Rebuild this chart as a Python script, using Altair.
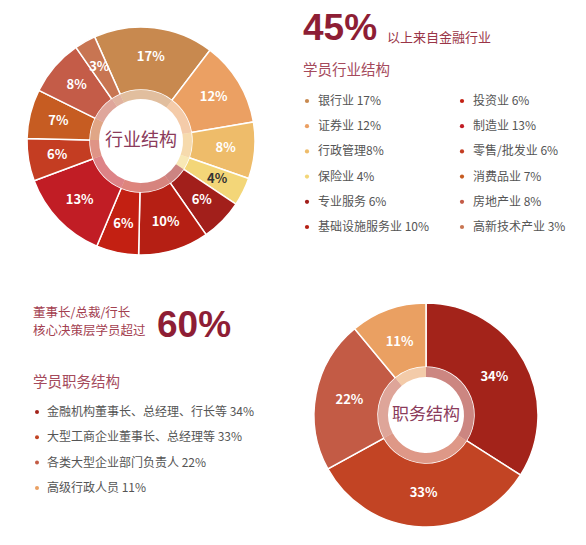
import math
import altair as alt
import pandas as pd

# ---------------- data ----------------
ind_names = ["银行业", "证券业", "行政管理", "保险业", "专业服务", "基础设施服务业",
             "投资业", "制造业", "零售/批发业", "消费品业", "房地产业", "高新技术产业"]
ind_values = [17, 12, 8, 4, 6, 10, 6, 13, 6, 7, 8, 3]
ind_legend = ["银行业 17%", "证券业 12%", "行政管理8%", "保险业 4%", "专业服务 6%",
              "基础设施服务业 10%", "投资业 6%", "制造业 13%", "零售/批发业 6%",
              "消费品业 7%", "房地产业 8%", "高新技术产业 3%"]
ind_colors = ["#C8894F", "#EBA063", "#EEBC6A", "#F3D678", "#A21F1B", "#B51F14",
              "#C32012", "#C11D25", "#C43D22", "#C65C22", "#C45C48", "#C87552"]

pos_names = ["金融机构董事长、总经理、行长等", "大型工商企业董事长、总经理等",
             "各类大型企业部门负责人", "高级行政人员"]
pos_values = [34, 33, 22, 11]
pos_legend = ["金融机构董事长、总经理、行长等 34%", "大型工商企业董事长、总经理等 33%",
              "各类大型企业部门负责人 22%", "高级行政人员 11%"]
pos_colors = ["#A3231A", "#C24424", "#C35B45", "#EAA062"]

FONT = "Noto Sans CJK SC"
TWO_PI = 2 * math.pi

ind_df = pd.DataFrame({"idx": range(len(ind_names)), "name": ind_names,
                       "v": ind_values, "label": ind_legend,
                       "pct": [f"{v}%" for v in ind_values]})
pos_df = pd.DataFrame({"idx": range(len(pos_names)), "name": pos_names,
                       "v": pos_values, "label": pos_legend,
                       "pct": [f"{v}%" for v in pos_values]})

# ---------------- top donut ----------------
cx1, cy1 = 133, 133
start1 = math.radians(-24)
theta1 = alt.Theta("v:Q", stack=True, scale=alt.Scale(range=[start1, start1 + TWO_PI]))
color1 = alt.Color("name:N", scale=alt.Scale(domain=ind_names, range=ind_colors), legend=None)
order1 = alt.Order("idx:Q")

base1 = alt.Chart(ind_df)
arc1 = base1.mark_arc(innerRadius=51, outerRadius=114, stroke="white", strokeWidth=1.5).encode(
    theta=theta1, color=color1, order=order1, x=alt.value(cx1), y=alt.value(cy1))
ring1 = base1.mark_arc(innerRadius=42, outerRadius=51, opacity=0.55).encode(
    theta=theta1, color=color1, order=order1, x=alt.value(cx1), y=alt.value(cy1))
lab1 = base1.mark_text(radius=85, font=FONT, fontSize=13, fontWeight="bold").encode(
    theta=theta1, order=order1, text="pct:N", x=alt.value(cx1), y=alt.value(cy1),
    color=alt.condition(alt.datum.name == "保险业", alt.value("#333333"), alt.value("white")))
center1 = alt.Chart(pd.DataFrame({"t": ["行业结构"]})).mark_text(
    font=FONT, fontSize=18, color="#8B3B5B", align="center", baseline="middle").encode(
    text="t:N", x=alt.value(cx1), y=alt.value(cy1))
top_donut = alt.layer(arc1, ring1, lab1, center1)

# ---------------- bottom pie ----------------
cx2, cy2 = 418, 407
theta2 = alt.Theta("v:Q", stack=True, scale=alt.Scale(range=[0, TWO_PI]))
color2 = alt.Color("name:N", scale=alt.Scale(domain=pos_names, range=pos_colors), legend=None)
order2 = alt.Order("idx:Q")
base2 = alt.Chart(pos_df)
arc2 = base2.mark_arc(innerRadius=48, outerRadius=112, stroke="white", strokeWidth=1.5).encode(
    theta=theta2, color=color2, order=order2, x=alt.value(cx2), y=alt.value(cy2))
ring2 = base2.mark_arc(innerRadius=38, outerRadius=48, opacity=0.55).encode(
    theta=theta2, color=color2, order=order2, x=alt.value(cx2), y=alt.value(cy2))
lab2 = base2.mark_text(radius=78, font=FONT, fontSize=13, fontWeight="bold", color="white").encode(
    theta=theta2, order=order2, text="pct:N", x=alt.value(cx2), y=alt.value(cy2))
center2 = alt.Chart(pd.DataFrame({"t": ["职务结构"]})).mark_text(
    font=FONT, fontSize=17, color="#8B3B5B", align="center", baseline="middle").encode(
    text="t:N", x=alt.value(cx2), y=alt.value(cy2))
bottom_pie = alt.layer(arc2, ring2, lab2, center2)

# ---------------- legends ----------------
leg1_dots = base1.transform_calculate(
    px="299 + floor(datum.idx / 6) * 155", py="93 + (datum.idx % 6) * 25.2"
).mark_circle(size=18, opacity=1).encode(
    x=alt.X("px:Q", scale=None, axis=None), y=alt.Y("py:Q", scale=None, axis=None),
    color=color1)
leg1_text = base1.transform_calculate(
    px="310 + floor(datum.idx / 6) * 155", py="93 + (datum.idx % 6) * 25.2"
).mark_text(font=FONT, fontSize=12, color="#555555", align="left", baseline="middle").encode(
    x=alt.X("px:Q", scale=None, axis=None), y=alt.Y("py:Q", scale=None, axis=None),
    text="label:N")

leg2_dots = base2.transform_calculate(
    px="29", py="404 + datum.idx * 25.3"
).mark_circle(size=16, opacity=1).encode(
    x=alt.X("px:Q", scale=None, axis=None), y=alt.Y("py:Q", scale=None, axis=None),
    color=color2)
leg2_text = base2.transform_calculate(
    px="39", py="404 + datum.idx * 25.3"
).mark_text(font=FONT, fontSize=12, color="#555555", align="left", baseline="middle").encode(
    x=alt.X("px:Q", scale=None, axis=None), y=alt.Y("py:Q", scale=None, axis=None),
    text="label:N")


def static_text(t, x, y, size, color, weight="normal", font=FONT):
    return alt.Chart(pd.DataFrame({"t": [t]})).mark_text(
        font=font, fontSize=size, color=color, fontWeight=weight,
        align="left", baseline="alphabetic").encode(
        text="t:N", x=alt.value(x), y=alt.value(y))


texts = [
    static_text("45%", 295, 32, 37, "#8E1E35", "bold", "Liberation Sans"),
    static_text("以上来自金融行业", 379, 34, 13, "#9A3547"),
    static_text("学员行业结构", 295, 67, 14.5, "#A54A5C"),
    static_text("董事长/总裁/行长", 25, 309, 12.5, "#A3404F"),
    static_text("核心决策层学员超过", 25, 327, 12.5, "#A3404F"),
    static_text("60%", 149, 329, 37, "#8E1E35", "bold", "Liberation Sans"),
    static_text("学员职务结构", 25, 379, 14.5, "#A54A5C"),
]

chart = alt.layer(
    top_donut, bottom_pie, leg1_dots, leg1_text, leg2_dots, leg2_text, *texts
).resolve_scale(theta="independent", color="independent").properties(
    width=570, height=525, padding=0,
    autosize=alt.AutoSizeParams(type="none"),
).configure_view(stroke=None)

chart.save("out.html", embed_options={"renderer": "svg", "actions": False})
